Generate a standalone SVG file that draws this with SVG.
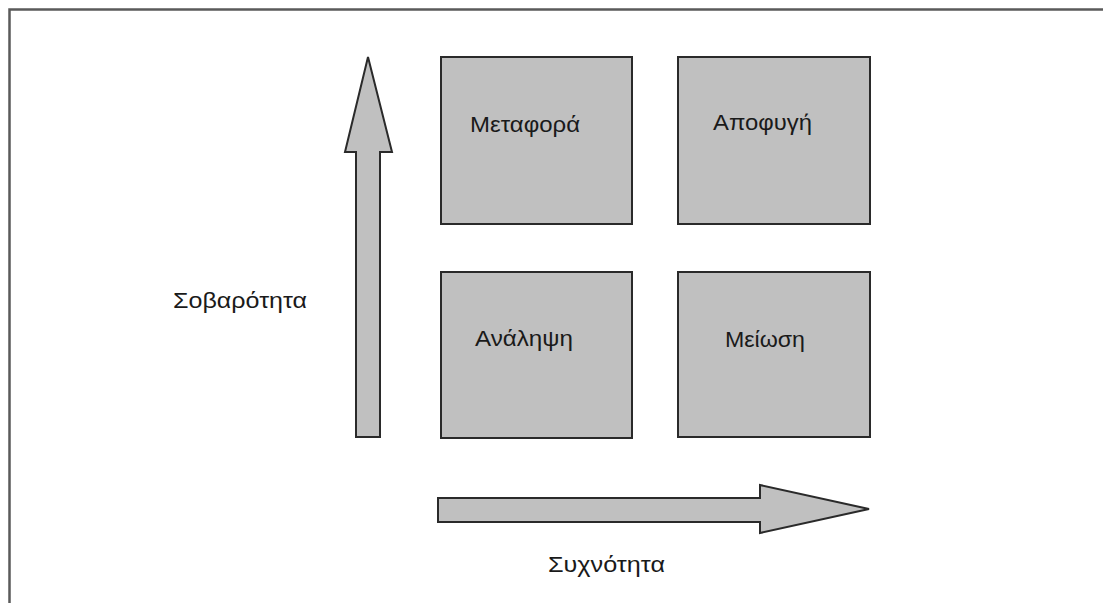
<svg xmlns="http://www.w3.org/2000/svg" width="1103" height="603" viewBox="0 0 1103 603">
  <style>
    .frame { fill: none; stroke: #5a5a5a; stroke-width: 2.5; }
    .box { fill: #c0c0c0; stroke: #2a2a2a; stroke-width: 2; }
    .axis { fill: #c0c0c0; stroke: #2a2a2a; stroke-width: 2; stroke-linejoin: miter; }
    .label { font-family: "Liberation Sans", Arial, sans-serif; font-size: 22px; fill: #1a1a1a; }
  </style>
  <rect width="1103" height="603" fill="#ffffff"/>

  <!-- open frame: top and left edges only -->
  <path class="frame" d="M9.5,603 V9.5 H1103"/>

  <!-- axis arrows -->
  <g id="connectors">
    <path id="axis-severity" class="axis" d="M356,437 V152 H345 L368,57 L392,152 H380 V437 Z"/>
    <path id="axis-frequency" class="axis" d="M438,498 H760 V485 L869,509 L760,533 V522 H438 Z"/>
  </g>

  <g id="node-transfer">
    <rect class="box" x="441" y="57" width="191" height="167"/>
    <text class="label" x="470" y="132" textLength="110" lengthAdjust="spacingAndGlyphs">Μεταφορά</text>
  </g>
  <g id="node-avoidance">
    <rect class="box" x="678" y="57" width="192" height="167"/>
    <text class="label" x="713" y="130" textLength="99" lengthAdjust="spacingAndGlyphs">Αποφυγή</text>
  </g>
  <g id="node-acceptance">
    <rect class="box" x="441" y="272" width="191" height="166"/>
    <text class="label" x="475" y="346" textLength="98" lengthAdjust="spacingAndGlyphs">Ανάληψη</text>
  </g>
  <g id="node-reduction">
    <rect class="box" x="678" y="272" width="192" height="165"/>
    <text class="label" x="725" y="347" textLength="80" lengthAdjust="spacingAndGlyphs">Μείωση</text>
  </g>

  <g id="axis-labels">
    <text class="label" x="173" y="308" textLength="134" lengthAdjust="spacingAndGlyphs">Σοβαρότητα</text>
    <text class="label" x="548" y="572" textLength="117" lengthAdjust="spacingAndGlyphs">Συχνότητα</text>
  </g>
</svg>
